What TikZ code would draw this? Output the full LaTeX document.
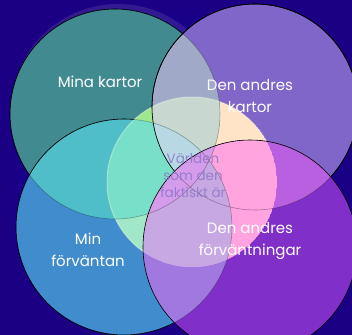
\documentclass[tikz,border=0pt]{standalone}
\usepackage{fontspec}
\setmainfont{Poppins}
\usetikzlibrary{positioning}

\definecolor{bgedge}{RGB}{28,0,132}
\definecolor{bgmid}{RGB}{6,0,162}
\definecolor{minac}{RGB}{64,138,144}
\definecolor{andrac}{RGB}{128,102,200}
\definecolor{minfc}{RGB}{64,140,204}
\definecolor{forvc}{RGB}{128,48,200}
\definecolor{minaandrac}{RGB}{160,170,200}
\definecolor{minaminfc}{RGB}{80,190,200}
\definecolor{andraforvc}{RGB}{184,96,224}
\definecolor{minfforvc}{RGB}{160,120,224}
\definecolor{peachc}{RGB}{255,228,200}
\definecolor{greenc}{RGB}{160,232,144}
\definecolor{grayc}{RGB}{200,216,208}
\definecolor{aqualc}{RGB}{160,232,200}
\definecolor{aquac}{RGB}{120,224,200}
\definecolor{bluelc}{RGB}{184,216,228}
\definecolor{pinkc}{RGB}{255,164,222}
\definecolor{lavc}{RGB}{200,168,226}
\definecolor{violc}{RGB}{214,156,236}
\definecolor{varldc}{RGB}{140,118,200}

\newcommand\rmina{105pt}
\newcommand\randra{103pt}
\newcommand\rminf{108pt}
\newcommand\rforv{107pt}
\newcommand\rvarld{85pt}

\tikzset{
	ring/.style={draw=black, line width=0.6pt},
	faintring/.style={draw=black, draw opacity=0.3, line width=0.6pt},
	circtext/.style={text=white, align=center, font=\fontsize{15}{22}\selectfont},
	varldtext/.style={text=varldc, text opacity=0.85, align=center, font=\fontsize{13.5}{17}\selectfont},
}

\begin{document}
\begin{tikzpicture}[x=1pt, y=-1pt]
	\useasboundingbox (0,0) rectangle (352,334);
	\shade[inner color=bgmid, outer color=bgedge] (0,0) rectangle (352,334);

	\coordinate (mina) at (115,114);
	\coordinate (andra) at (255,107);
	\coordinate (minf) at (124,227);
	\coordinate (forv) at (250,247);
	\coordinate (varld) at (192,182);
	\coordinate [above right=3pt and 3pt of mina] (minaglow);

	% mina kartor
	\fill[white, opacity=0.1] (minaglow) circle[radius=107pt];
	\fill[minac] (mina) circle[radius=\rmina];
	\draw[ring] (mina) circle[radius=\rmina];

	% den andres kartor
	\fill[andrac] (andra) circle[radius=\randra];
	\begin{scope}
		\clip (andra) circle[radius=\randra];
		\fill[minaandrac] (mina) circle[radius=\rmina];
	\end{scope}
	\draw[ring] (andra) circle[radius=\randra];

	% min forvantan
	\fill[minfc] (minf) circle[radius=\rminf];
	\begin{scope}
		\clip (minf) circle[radius=\rminf];
		\fill[minaminfc] (mina) circle[radius=\rmina];
	\end{scope}
	\draw[ring] (minf) circle[radius=\rminf];

	% varlden
	\begin{scope}
		\clip (varld) circle[radius=\rvarld];
		\fill[peachc] (varld) circle[radius=\rvarld];
		\begin{scope}
			\clip (mina) circle[radius=\rmina];
			\fill[greenc] (mina) circle[radius=\rmina];
			\fill[grayc] (andra) circle[radius=\randra];
		\end{scope}
		\begin{scope}
			\clip (minf) circle[radius=\rminf];
			\fill[aqualc] (minf) circle[radius=\rminf];
			\clip (mina) circle[radius=\rmina];
			\fill[aquac] (mina) circle[radius=\rmina];
			\fill[bluelc] (andra) circle[radius=\randra];
		\end{scope}
	\end{scope}
	\draw[white, opacity=0.2, line width=1.5pt] (varld) circle[radius=\rvarld];
	\draw[ring] (andra) circle[radius=\randra];

	% den andres forvantningar
	\begin{scope}
		\clip (forv) circle[radius=\rforv];
		\fill[forvc] (forv) circle[radius=\rforv];
		\fill[andraforvc] (andra) circle[radius=\randra];
		\fill[minfforvc] (minf) circle[radius=\rminf];
		\clip (varld) circle[radius=\rvarld];
		\fill[pinkc] (varld) circle[radius=\rvarld];
		\fill[lavc] (minf) circle[radius=\rminf];
		\fill[violc] (mina) circle[radius=\rmina];
	\end{scope}
	\draw[ring] (forv) circle[radius=\rforv];

	\foreach \c/\r in {mina/\rmina, andra/\randra, minf/\rminf}
		\draw[faintring] (\c) circle[radius=\r];

	\node[circtext] (minatext) at (100,82) {Mina kartor};
	\node[circtext] (andratext) at (250,96) {Den andres\\kartor};
	\node[circtext] (minftext) at (88,250) {Min\\förväntan};
	\node[circtext] (forvtext) at (250,241) {Den andres\\förväntningar};
	\node[varldtext] (varldtext) at (193,176) {Världen\\som den\\faktiskt är};
\end{tikzpicture}
\end{document}
